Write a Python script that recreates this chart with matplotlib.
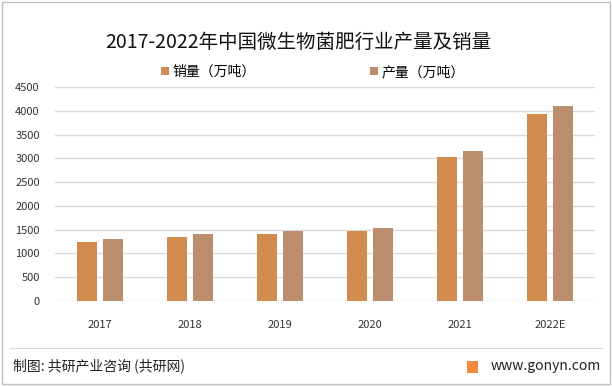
import matplotlib
matplotlib.use('Agg')
import matplotlib.pyplot as plt
import numpy as np
from matplotlib.patches import Rectangle
from matplotlib.lines import Line2D

plt.rcParams['font.family'] = ['Noto Sans CJK SC', 'DejaVu Sans']

years = ['2017', '2018', '2019', '2020', '2021', '2022E']
sales = [1240, 1340, 1400, 1470, 3030, 3940]
production = [1300, 1410, 1470, 1535, 3160, 4110]
series_names = ['销量（万吨）', '产量（万吨）']
colors = ['#D28B4E', '#BC8E6D']

fig = plt.figure(figsize=(6.12, 3.86), dpi=100)
ax = fig.add_axes([55 / 612, 1 - 300.7 / 386, 540 / 612, (300.7 - 87.3) / 386])

x = np.arange(len(years))
w = 0.228
gap = 0.028
ax.bar(x - w / 2 - gap, sales, w, color=colors[0], label=series_names[0], zorder=3)
ax.bar(x + w / 2 + gap, production, w, color=colors[1], label=series_names[1], zorder=3)

ax.set_xlim(-0.5, len(years) - 0.5)
ax.set_ylim(0, 4500)
ax.set_yticks(np.arange(0, 4501, 500))
ax.set_xticks(x)
ax.set_xticklabels(years)
ax.tick_params(axis='both', length=0, labelsize=8, colors='#333333')
ax.tick_params(axis='x', pad=14)
ax.tick_params(axis='y', pad=11)
ax.grid(axis='y', color='#D9D9D9', linewidth=1, zorder=0)
for s in ax.spines.values():
    s.set_visible(False)

fig.text(298 / 612, 1 - 42 / 386, '2017-2022年中国微生物菌肥行业产量及销量',
         ha='center', va='center', fontsize=14, color='#111111')

leg = fig.legend(loc='center', bbox_to_anchor=(313 / 612, 1 - 72 / 386), ncol=2, frameon=False,
                 fontsize=10, handlelength=0.55, handleheight=0.55, handletextpad=0.3,
                 columnspacing=8.2)

# outer border and footer line
fig.patches.append(Rectangle((2 / 612, 2 / 386), 608 / 612, 382 / 386, transform=fig.transFigure,
                             fill=False, edgecolor='#BFBFBF', linewidth=1))
fig.lines.append(Line2D([10 / 612, 602 / 612], [1 - 348 / 386] * 2, transform=fig.transFigure,
                        color='#D9D9D9', linewidth=0.8))

fig.text(13 / 612, 1 - 366 / 386, '制图: 共研产业咨询 (共研网)', ha='left', va='center',
         fontsize=10, color='#222222')
fig.patches.append(Rectangle((467 / 612, 1 - 373 / 386), 11 / 612, 12 / 386, transform=fig.transFigure,
                             facecolor='#F08A3C', edgecolor='none'))
fig.text(601 / 612, 1 - 366 / 386, 'www.gonyn.com', ha='right', va='center',
         fontsize=10, color='#222222')

fig.savefig('out.png', dpi=100)
